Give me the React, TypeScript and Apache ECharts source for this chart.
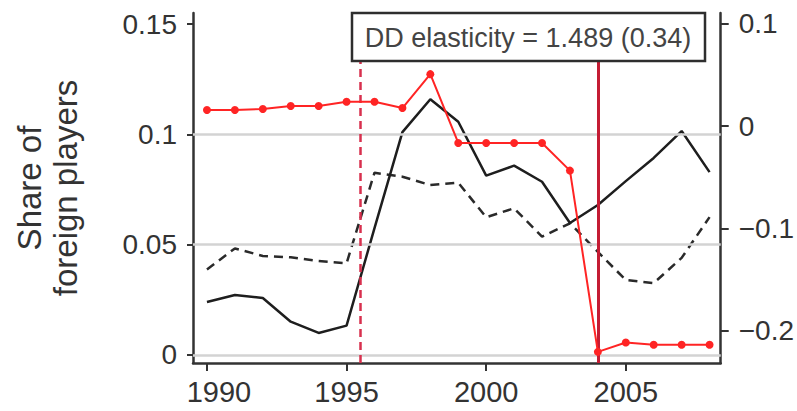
import React, { useEffect, useRef } from "react";
import * as echarts from "echarts";

const years = [1990, 1991, 1992, 1993, 1994, 1995, 1996, 1997, 1998, 1999, 2000, 2001, 2002, 2003, 2004, 2005, 2006, 2007, 2008];
const shareActual = [0.024, 0.0272, 0.0258, 0.0151, 0.01, 0.0133, 0.0575, 0.101, 0.1159, 0.1057, 0.0813, 0.0858, 0.0785, 0.0598, 0.068, 0.0788, 0.0893, 0.1015, 0.0829];
const shareSynthetic = [0.0388, 0.0483, 0.0449, 0.0443, 0.0426, 0.0416, 0.0826, 0.0808, 0.077, 0.0781, 0.0624, 0.0665, 0.0536, 0.0597, 0.0467, 0.034, 0.0326, 0.044, 0.0625];
const taxEffect = [0.0156, 0.0156, 0.0166, 0.0195, 0.0195, 0.0237, 0.0237, 0.0176, 0.0507, -0.0166, -0.0166, -0.0166, -0.0166, -0.0436, -0.2208, -0.2117, -0.2139, -0.2139, -0.2139];
const xTicks = [1990, 1995, 2000, 2005];
const leftTicks = [0, 0.05, 0.1, 0.15];
const rightTicks = [-0.2, -0.1, 0, 0.1];
const gridValues = [0, 0.05, 0.1];
const dashedEvent = 1995.5;
const solidEvent = 2004;
const boxText = "DD elasticity = 1.489 (0.34)";

const FONT = "Liberation Sans, Arial, Helvetica, sans-serif";

export default function App() {
  const ref = useRef<HTMLDivElement>(null);
  useEffect(() => {
    if (!ref.current) return;
    const chart = echarts.init(ref.current, null, { renderer: "svg" });
    const axisColor = "#333";
    const pair = (arr: number[]) => years.map((y, i) => [y, arr[i]]);
    chart.setOption({
      animation: false,
      textStyle: { fontFamily: FONT },
      grid: { left: 193, right: 73, top: 13, bottom: 48, containLabel: false },
      xAxis: {
        type: "value",
        min: 1989.5,
        max: 2008.4,
        axisLine: { show: true, onZero: false, lineStyle: { color: axisColor, width: 2.5 } },
        axisTick: { show: true, customValues: xTicks, length: 8, lineStyle: { color: axisColor, width: 2 } },
        axisLabel: {
          customValues: xTicks,
          fontSize: 29,
          color: "#333",
          margin: 14,
          fontFamily: FONT,
          formatter: (v: number) => (v === 1990 ? "{f|" + v + "}" : String(v)),
          rich: { f: { fontSize: 29, color: "#333", fontFamily: FONT, padding: [0, 0, 0, 24] } },
        },
        splitLine: { show: false },
      },
      yAxis: [
        {
          type: "value",
          position: "left",
          min: -0.00363,
          max: 0.155,
          axisLine: { show: true, onZero: false, lineStyle: { color: axisColor, width: 2.5 } },
          axisTick: { show: true, customValues: leftTicks, length: 6, lineStyle: { color: axisColor, width: 2 } },
          axisLabel: { customValues: leftTicks, fontSize: 28, color: "#333", margin: 16, fontFamily: FONT },
          splitLine: { show: false },
          name: "Share of\nforeign players",
          nameLocation: "middle",
          nameGap: 110,
          nameTextStyle: { fontSize: 33, lineHeight: 36, color: "#333", fontFamily: FONT },
        },
        {
          type: "value",
          position: "right",
          min: -0.2317,
          max: 0.1105,
          axisLine: { show: true, onZero: false, lineStyle: { color: axisColor, width: 2.5 } },
          axisTick: { show: true, customValues: rightTicks, length: 8, lineStyle: { color: axisColor, width: 2 } },
          axisLabel: {
            customValues: rightTicks,
            fontSize: 28,
            color: "#333",
            margin: 18,
            fontFamily: FONT,
            formatter: (v: number) => (v < 0 ? "\u2212" + String(Math.abs(v)) : String(v)),
          },
          splitLine: { show: false },
        },
      ],
      series: [
        {
          type: "line",
          name: "grid",
          data: [],
          yAxisIndex: 0,
          z: 1,
          silent: true,
          markLine: {
            silent: true,
            symbol: "none",
            label: { show: false },
            lineStyle: { color: "#d3d3d3", width: 2.5, type: "solid" },
            data: gridValues.map((v) => ({ yAxis: v })),
          },
        },
        {
          type: "line",
          name: "events",
          data: [],
          yAxisIndex: 0,
          z: 2,
          silent: true,
          markLine: {
            silent: true,
            symbol: "none",
            label: { show: false },
            data: [
              { xAxis: dashedEvent, lineStyle: { color: "#d8304e", width: 2.5, type: [8, 5] } },
              { xAxis: solidEvent, lineStyle: { color: "#c41c34", width: 3, type: "solid" } },
            ],
          },
        },
        {
          type: "line",
          name: "synthetic",
          data: pair(shareSynthetic),
          yAxisIndex: 0,
          z: 3,
          showSymbol: false,
          symbol: "none",
          lineStyle: { color: "#2a2a2a", width: 2.5, type: [9, 6] },
        },
        {
          type: "line",
          name: "actual",
          data: pair(shareActual),
          yAxisIndex: 0,
          z: 4,
          showSymbol: false,
          symbol: "none",
          lineStyle: { color: "#1e1e1e", width: 2.5 },
        },
        {
          type: "line",
          name: "effect",
          data: pair(taxEffect),
          yAxisIndex: 1,
          z: 5,
          symbol: "circle",
          symbolSize: 8,
          lineStyle: { color: "#ff2424", width: 2 },
          itemStyle: { color: "#ff2424" },
        },
      ],
      graphic: [
        {
          type: "rect",
          z: 100,
          shape: { x: 352, y: 13, width: 353, height: 48 },
          style: { fill: "#fff", stroke: "#2e2e2e", lineWidth: 2.5 },
        },
        {
          type: "text",
          z: 101,
          x: 528,
          y: 38,
          style: {
            text: boxText,
            font: "27px " + FONT,
            fill: "#444",
            textAlign: "center",
            textVerticalAlign: "middle",
          },
        },
      ],
    });
    return () => chart.dispose();
  }, []);
  return (
    <div
      ref={ref}
      style={{ position: "fixed", left: 0, top: 0, width: 797, height: 411, background: "#fff" }}
    />
  );
}
